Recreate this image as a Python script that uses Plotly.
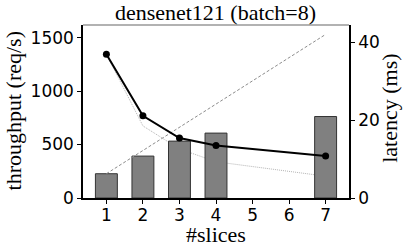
import plotly.graph_objects as go

slices = [1, 2, 3, 4, 7]
throughput = [227, 392, 532, 607, 762]
latency = [36.9, 21.1, 15.4, 13.5, 10.8]
ideal_latency = [36.9, 18.5, 12.6, 9.3, 5.6]
ideal_x = [1, 7]
ideal_throughput = [227, 1530]
x_ticks = [1, 2, 3, 4, 5, 6, 7]
thr_ticks = [0, 500, 1000, 1500]
lat_ticks = [0, 20, 40]

SERIF = "Liberation Serif, Times New Roman, serif"
SANS = "DejaVu Sans, sans-serif"
LAT_RANGE = [0, 44.4]
THR_RANGE = [0, 1618]
TICKFONT = dict(family=SANS, size=17, color="black")
LABELFONT = dict(family=SERIF, size=22, color="black")

W, H = 407, 251
PL, PR, PT, PB = 82.5, 349, 25, 198.3  # plot-area edges in pixels
ML, MR, MT, MB = PL, W - PR, PT, H - PB


def px(xw):
    return (xw - PL) / (PR - PL)


def py(yw):
    return (PB - yw) / (PB - PT)


fig = go.Figure()
fig.add_trace(go.Scatter(x=slices, y=ideal_latency, mode="lines", yaxis="y",
                         line=dict(color="#b4b4b4", width=1, dash="1px,1px"), showlegend=False))
fig.add_trace(go.Bar(x=slices, y=throughput, yaxis="y2", width=0.6,
                     marker=dict(color="#808080", line=dict(color="#333333", width=1)),
                     showlegend=False))
fig.add_trace(go.Scatter(x=ideal_x, y=ideal_throughput, mode="lines", yaxis="y2",
                         line=dict(color="#8c8c8c", width=1, dash="3px,2px"), showlegend=False))
fig.add_trace(go.Scatter(x=slices, y=latency, mode="lines+markers", yaxis="y3",
                         line=dict(color="black", width=2),
                         marker=dict(color="black", size=7), showlegend=False))

axis_common = dict(ticks="outside", ticklen=4, tickwidth=1.2, tickcolor="black",
                   showline=True, linecolor="black", linewidth=1.5, showgrid=False,
                   zeroline=False, tickfont=TICKFONT, tickmode="array", automargin=False)

fig.update_layout(
    width=W, height=H,
    margin=dict(l=ML, r=MR, t=MT, b=MB, pad=0, autoexpand=False),
    plot_bgcolor="white", paper_bgcolor="white",
    title=dict(text="densenet121 (batch=8)", x=215.5 / W, xanchor="center",
               y=1 - 12.5 / H, yanchor="middle",
               font=dict(family=SERIF, size=22, color="black")),
    xaxis=dict(range=[0.36, 7.64], tickvals=x_ticks, ticklabelstandoff=-3, **axis_common),
    yaxis=dict(range=LAT_RANGE, visible=False, showgrid=False, zeroline=False),
    yaxis2=dict(range=THR_RANGE, overlaying="y", side="left", tickvals=thr_ticks, **axis_common),
    yaxis3=dict(range=LAT_RANGE, overlaying="y", side="right", tickvals=lat_ticks, **axis_common),
    shapes=[dict(type="line", xref="paper", yref="paper", x0=0, x1=1, y0=1, y1=1,
                 line=dict(color="#999999", width=1.5))],
    annotations=[
        dict(text="#slices", xref="paper", yref="paper", x=px(215.5), y=py(235),
             xanchor="center", yanchor="middle", showarrow=False, font=LABELFONT),
        dict(text="throughput (req/s)", xref="paper", yref="paper", x=px(13), y=py(111),
             xanchor="center", yanchor="middle", textangle=-90, showarrow=False, font=LABELFONT),
        dict(text="latency (ms)", xref="paper", yref="paper", x=px(390), y=py(108),
             xanchor="center", yanchor="middle", textangle=-90, showarrow=False, font=LABELFONT),
    ],
)

fig.write_html("out.html", config={"displayModeBar": False},
               post_script="document.body.style.margin='0';document.body.style.overflow='hidden';")
